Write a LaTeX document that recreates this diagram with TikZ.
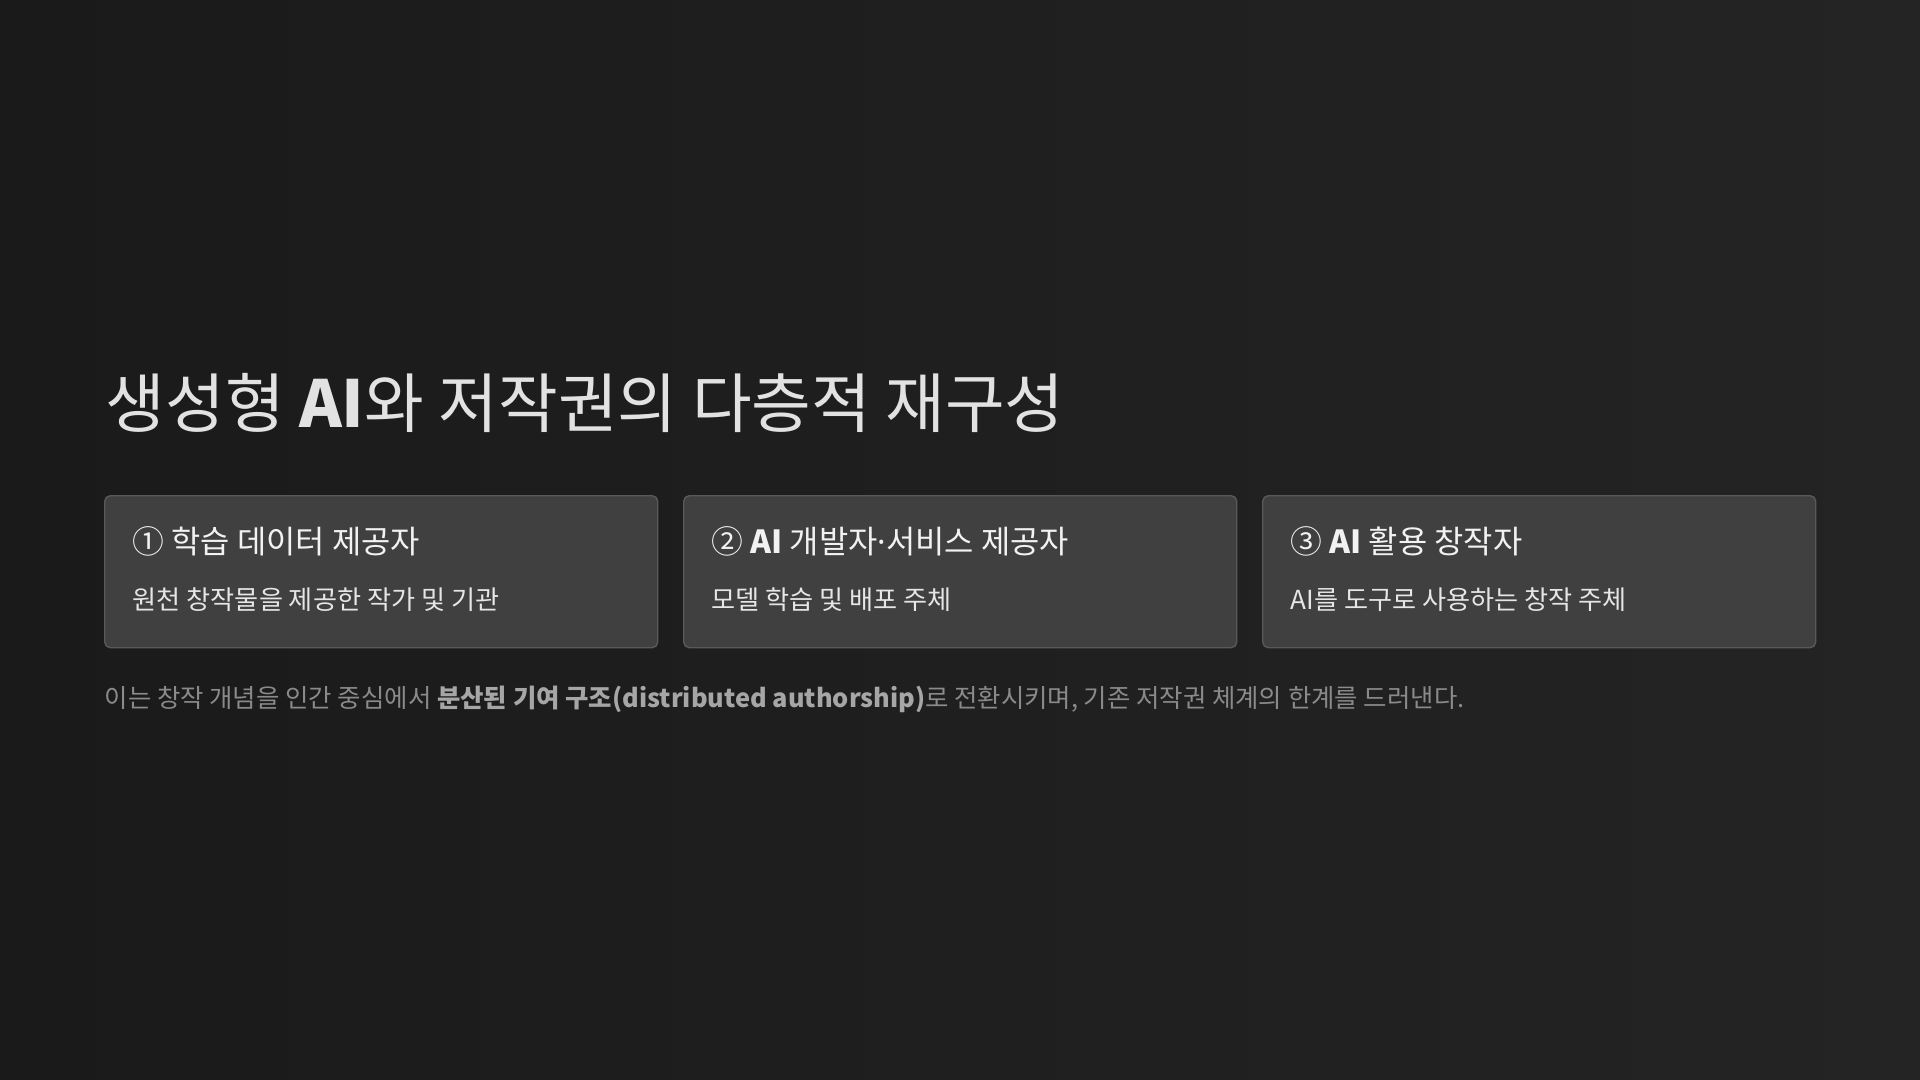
\documentclass[tikz,border=0pt]{standalone}
\usepackage{fontspec}
\setmainfont{Noto Sans CJK KR}
\newfontfamily\dotfont{Noto Sans}
\usepackage{xcolor}
\usetikzlibrary{positioning}

\definecolor{bgdark}{HTML}{1B1A1B}
\definecolor{bglight}{HTML}{252425}
\definecolor{cardfill}{HTML}{404040}
\definecolor{cardline}{HTML}{595959}
\definecolor{headtext}{HTML}{E2E2E2}
\definecolor{cardtext}{HTML}{F2F2F2}
\definecolor{subtext}{HTML}{E6E6E6}
\definecolor{foottext}{HTML}{8A8A8A}
\definecolor{footbold}{HTML}{A6A6A6}

\tikzset{
    card/.style={draw=cardline, fill=cardfill, line width=0.4pt, rounded corners=1.6pt,
        minimum width=5.53cm, minimum height=1.52cm, anchor=north west, inner sep=0pt},
    cardtitle/.style={anchor=base west, inner sep=0pt, text=cardtext, font=\fontsize{9.05}{11}\selectfont},
    cardsub/.style={anchor=base west, inner sep=0pt, text=subtext, font=\fontsize{7.45}{9}\selectfont}
}

\begin{document}
\begin{tikzpicture}

    % background
    \useasboundingbox (0,0) rectangle (19.2,-10.8);
    \shade[left color=bgdark, right color=bglight] (0,0) rectangle (19.2,-10.8);

    \node[anchor=base west, inner sep=0pt, text=headtext, font=\fontsize{18.45}{22}\selectfont] (heading) at (1.05,-4.28) {생성형 \textbf{AI}와 저작권의 다층적 재구성};

    \node[card] (card1) at (1.04,-4.95) {};
    \node[card] (card2) at (6.83,-4.95) {};
    \node[card] (card3) at (12.62,-4.95) {};

    \node[cardtitle] (title1) at (1.32,-5.53) {① 학습 데이터 제공자};
    \node[cardsub] (sub1) at (1.32,-6.09) {원천 창작물을 제공한 작가 및 기관};

    \node[cardtitle] (title2) at (7.11,-5.53) {② \textbf{AI} 개발자{\dotfont ·}서비스 제공자};
    \node[cardsub] (sub2) at (7.11,-6.09) {모델 학습 및 배포 주체};

    \node[cardtitle] (title3) at (12.90,-5.53) {③ \textbf{AI} 활용 창작자};
    \node[cardsub] (sub3) at (12.90,-6.09) {AI를 도구로 사용하는 창작 주체};

    \node[anchor=base west, inner sep=0pt, text=foottext, font=\fontsize{7.23}{9}\selectfont] (footnote) at (1.04,-7.07)
        {이는 창작 개념을 인간 중심에서 \textcolor{footbold}{\textbf{분산된 기여 구조(distributed authorship)}}로 전환시키며, 기존 저작권 체계의 한계를 드러낸다.};
\end{tikzpicture}
\end{document}
